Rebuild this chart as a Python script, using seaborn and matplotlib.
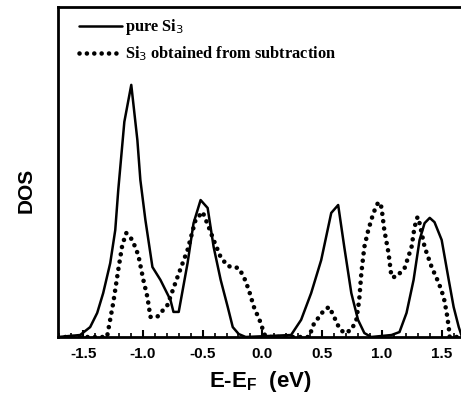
import matplotlib
matplotlib.use("Agg")
import matplotlib.pyplot as plt
import seaborn as sns
import numpy as np
import pandas as pd
from matplotlib.ticker import MultipleLocator

sns.set_theme(style="white", rc={"text.color": "black", "axes.labelcolor": "black",
                                 "xtick.color": "black", "ytick.color": "black",
                                 "axes.unicode_minus": False})

# pure Si3 (solid)
pure_e = [-1.71, -1.525, -1.441, -1.382, -1.332, -1.273, -1.231, -1.206, -1.155, -1.097,
          -1.046, -1.021, -0.979, -0.92, -0.853, -0.769, -0.744, -0.70, -0.626, -0.576,
          -0.517, -0.458, -0.408, -0.349, -0.29, -0.248, -0.198, -0.14, 0.24, 0.324,
          0.408, 0.492, 0.576, 0.634, 0.685, 0.744, 0.80, 0.853, 0.91, 1.08,
          1.147, 1.206, 1.265, 1.315, 1.357, 1.40, 1.44, 1.50, 1.559, 1.60,
          1.643, 1.67]
pure_dos = [0.0, 0.006, 0.03, 0.073, 0.133, 0.224, 0.324, 0.445, 0.652, 0.764,
            0.597, 0.476, 0.355, 0.212, 0.173, 0.112, 0.076, 0.076, 0.224, 0.345,
            0.415, 0.391, 0.273, 0.173, 0.091, 0.03, 0.009, 0.0, 0.006, 0.052,
            0.133, 0.233, 0.376, 0.40, 0.273, 0.133, 0.052, 0.012, 0.0, 0.006,
            0.015, 0.073, 0.173, 0.294, 0.345, 0.361, 0.348, 0.294, 0.173, 0.091,
            0.03, 0.0]

# Si3 obtained from subtraction (dotted)
sub_e = [-1.71, -1.30, -1.248, -1.206, -1.172, -1.139, -1.088, -1.038, -0.996, -0.962,
         -0.937, -0.88, -0.794, -0.71, -0.626, -0.559, -0.5, -0.449, -0.408, -0.349,
         -0.29, -0.198, -0.155, -0.113, -0.071, -0.013, 0.012, 0.03, 0.39, 0.433,
         0.475, 0.517, 0.559, 0.60, 0.643, 0.685, 0.744, 0.786, 0.81, 0.828,
         0.853, 0.886, 0.929, 0.97, 0.996, 1.02, 1.055, 1.08, 1.12, 1.19,
         1.248, 1.273, 1.298, 1.315, 1.357, 1.416, 1.475, 1.517, 1.542, 1.559,
         1.567, 1.67]
sub_dos = [0.0, 0.0, 0.103, 0.203, 0.279, 0.315, 0.294, 0.248, 0.173, 0.121,
           0.061, 0.061, 0.097, 0.182, 0.264, 0.355, 0.379, 0.333, 0.294, 0.242,
           0.215, 0.209, 0.182, 0.142, 0.091, 0.042, 0.012, 0.0, 0.0, 0.042,
           0.061, 0.082, 0.091, 0.061, 0.027, 0.012, 0.021, 0.052, 0.112, 0.194,
           0.273, 0.324, 0.376, 0.409, 0.394, 0.324, 0.255, 0.182, 0.182, 0.209,
           0.273, 0.333, 0.364, 0.345, 0.273, 0.212, 0.164, 0.121, 0.073, 0.03,
           0.0, 0.0]

labels = ["pure Si$_3$", "Si$_3$ obtained from subtraction"]

fig = plt.figure(figsize=(4.61, 4.0), dpi=100)
ax = fig.add_axes([58 / 461, 63 / 400, 404 / 461, 330 / 400])

sns.lineplot(x=pure_e, y=pure_dos, ax=ax, color="black", lw=1.8, label=labels[0])
sns.lineplot(x=sub_e, y=sub_dos, ax=ax, color="black", lw=3.3,
             linestyle=(0, (0.01, 1.6)), dash_capstyle="round", label=labels[1])

ax.set_xlim(-1.71, 1.67)
ax.set_ylim(0, 1.0)
ax.set_yticks([])
ax.xaxis.set_major_locator(MultipleLocator(0.5))
ax.xaxis.set_minor_locator(MultipleLocator(0.1))
ax.tick_params(axis="x", which="major", direction="in", length=5, width=1.5,
               bottom=True, top=False, pad=7, labelsize=11)
ax.tick_params(axis="x", which="minor", direction="in", length=3, width=1.2,
               bottom=True, top=False)
for lab in ax.get_xticklabels():
    lab.set_fontweight("bold")
    lab.set_fontfamily("Liberation Sans")

for side in ["left", "top", "bottom"]:
    ax.spines[side].set_linewidth(2.0)
    ax.spines[side].set_color("black")
ax.spines["right"].set_visible(False)

ax.set_xlabel("E-E$_\\mathregular{F}$  (eV)", fontsize=16, fontweight="bold",
              fontfamily="Liberation Sans", labelpad=6)
ax.set_ylabel("DOS", fontsize=15, fontweight="bold", fontfamily="Liberation Sans")
ax.yaxis.set_label_coords(-0.055, 0.445)

leg = ax.legend(loc="upper left", bbox_to_anchor=(0.0235, 1.003), frameon=False,
                handlelength=2.6, handletextpad=0.2,
                borderaxespad=0.3, labelspacing=0.42,
                prop={"family": "Liberation Serif", "weight": "bold", "size": 11.8})

fig.savefig("out.png", dpi=100)
